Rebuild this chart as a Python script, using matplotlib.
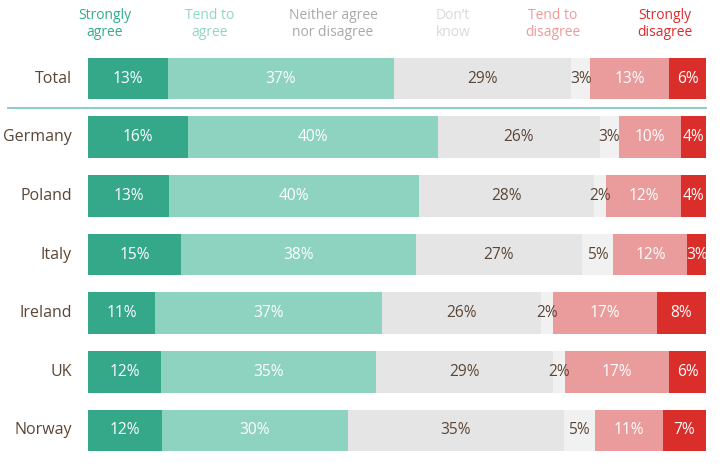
import matplotlib
matplotlib.use("Agg")
import matplotlib.pyplot as plt
import numpy as np

categories = ["Total", "Germany", "Poland", "Italy", "Ireland", "UK", "Norway"]
responses = ["Strongly\nagree", "Tend to\nagree", "Neither agree\nnor disagree",
             "Don\u2019t\nknow", "Tend to\ndisagree", "Strongly\ndisagree"]
strongly_agree = [13, 16, 13, 15, 11, 12, 12]
tend_agree = [37, 40, 40, 38, 37, 35, 30]
neither = [29, 26, 28, 27, 26, 29, 35]
dont_know = [3, 3, 2, 5, 2, 2, 5]
tend_disagree = [13, 10, 12, 12, 17, 17, 11]
strongly_disagree = [6, 4, 4, 3, 8, 6, 7]

series = [strongly_agree, tend_agree, neither, dont_know, tend_disagree, strongly_disagree]
bar_colors = ["#35a88a", "#8ed2c0", "#e5e5e5", "#f1f1f1", "#ea9c9c", "#da2e2b"]
head_colors = ["#2fae8c", "#8ed8c5", "#a9a9a9", "#d9d9d9", "#ef9a9a", "#e0292a"]
label_colors = ["white", "white", "#5b4636", "#5b4636", "white", "white"]

plt.rcParams["font.family"] = ["Open Sans", "DejaVu Sans"]

fig = plt.figure(figsize=(7.22, 4.75), dpi=100)
ax = fig.add_axes([88 / 722, 1 - 459.8 / 475, 618 / 722, (459.8 - 49.2) / 475])

data = np.array(series, dtype=float)
shares = data / data.sum(axis=0) * 100
y = np.arange(len(categories))
left = np.zeros(len(categories))
for i in range(len(series)):
    ax.barh(y, shares[i], left=left, height=0.71, color=bar_colors[i],
            edgecolor="none")
    for j in range(len(categories)):
        cx = left[j] + shares[i][j] / 2
        ax.text(cx, y[j], f"{series[i][j]}%", ha="center", va="center",
                fontsize=11.2, color=label_colors[i], clip_on=True)
    left += shares[i]

ax.set_xlim(0, 100)
ax.set_ylim(6.5, -0.5)
ax.axis("off")

for j, c in enumerate(categories):
    ax.text(-2.6, y[j], c, ha="right", va="center", fontsize=11.5,
            color="#5b4636")

# separator line between Total and countries
fig.add_artist(plt.Line2D([8 / 722, 706 / 722], [1 - 107.5 / 475, 1 - 107.5 / 475],
                          color="#8ccbcb", lw=1.4))

head_x = [105, 210, 333, 453, 553, 665]
for i, r in enumerate(responses):
    fig.text(head_x[i] / 722, 1 - 24 / 475, r, ha="center", va="center",
             fontsize=10, color=head_colors[i], linespacing=1.2)

fig.savefig("out.png", dpi=100)
